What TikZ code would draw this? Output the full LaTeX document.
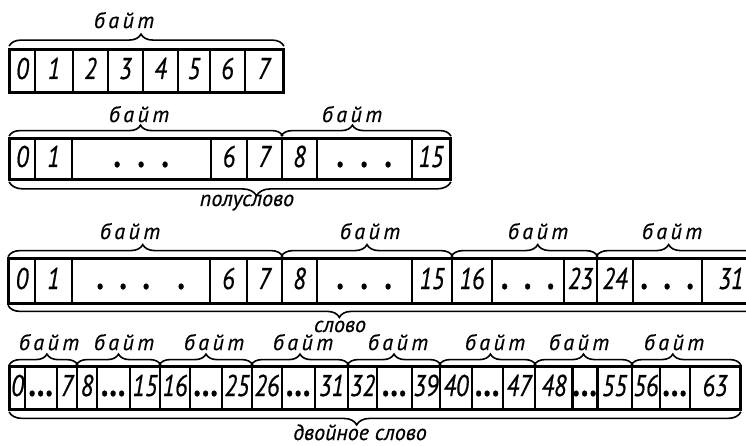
\documentclass[tikz,border=0pt]{standalone}
\usepackage{fontspec}
\setmainfont[FakeBold=0.5]{PT Sans}
\newfontfamily\numfont[FakeStretch=0.8, FakeBold=0.6]{PT Sans}
\newfontfamily\bytefont[LetterSpace=16, FakeBold=0.5]{PT Sans}
\usetikzlibrary{decorations.pathreplacing}

% one dot of a "..." run, centred in a box of the given width
\newcommand\pd[1]{\makebox[#1pt]{\fontsize{38}{38}\selectfont\bfseries.}}

\tikzset{
  cell/.style={draw, line width=1.8pt, inner sep=0pt, text height=16pt, text depth=0pt,
    font=\numfont\itshape\fontsize{30}{30}\selectfont},
  frame/.style={draw, line width=2.6pt},
  bracetop/.style={decorate, line width=1.6pt, decoration={brace, amplitude=#1}},
  bracebot/.style={decorate, line width=1.6pt, decoration={brace, mirror, amplitude=#1}},
  lbl/.style={anchor=base, inner sep=0pt, font=\itshape\fontsize{22}{26}\selectfont},
  bytelbl/.style={lbl, font=\bytefont\itshape\fontsize{22}{26}\selectfont},
}

\begin{document}
\begin{tikzpicture}[x=1pt, y=-1pt]
\useasboundingbox (0,0) rectangle (746,446);

% ---- byte ----
\foreach \a/\b/\t [count=\i] in {10/35/0, 35/73/1, 73/108/2, 108/143/3, 143/178/4,
    178/210/5, 210/245/6, 245/283/7}
  \node[cell, minimum width={(\b-\a)*1pt}, minimum height=42pt] (ra\i) at ({(\a+\b)/2},71) {\t};
\draw[frame] (ra1.north west) rectangle (ra8.south east);
\draw[bracetop=12pt, decoration={aspect=0.48}] ([yshift=3pt]ra1.north west) -- ([yshift=3pt]ra8.north east);
\node[bytelbl] (la) at (124,28) {байт};

% ---- half-word ----
\foreach \a/\b/\t [count=\i] in {10/35/0, 35/72/1, 72/211/{\pd{24}\pd{24}\pd{24}\hskip14pt},
    211/247/6, 247/282/7, 282/317/8, 317/412/{\pd{24}\pd{24}\pd{24}}, 412/450/15}
  \node[cell, minimum width={(\b-\a)*1pt}, minimum height=40pt] (rb\i) at ({(\a+\b)/2},159) {\t};
\draw[frame] (rb1.north west) rectangle (rb8.south east);
\draw[bracetop=11pt, decoration={aspect=0.48}] ([yshift=2pt]rb1.north west) -- ([yshift=2pt]rb5.north east);
\draw[bracetop=11pt, decoration={aspect=0.42}] ([yshift=2pt]rb6.north west) -- ([yshift=2pt]rb8.north east);
\draw[bracebot=14pt, decoration={aspect=0.56}] ([yshift=-2pt]rb1.south west) -- ([yshift=-2pt]rb8.south east);
\node[bytelbl] (lb1) at (139,122) {байт};
\node[bytelbl] (lb2) at (352,122) {байт};
\node[lbl] (lb3) at (247,206) {полуслово};

% ---- word ----
\foreach \a/\b/\t [count=\i] in {9/35/0, 35/72/1, 72/210/{\pd{23}\pd{23}\pd{23}\hskip12pt\pd{23}},
    210/247/6, 247/282/7, 282/317/8, 317/412/{\pd{24}\pd{24}\pd{24}\hskip8pt}, 412/452/15,
    452/492/16, 492/564/{\pd{23}\pd{23}\pd{23}}, 564/597/23, 597/633/24,
    633/702/{\pd{23}\pd{23}\pd{23}}, 702/760/{\makebox[32pt]{31}\hskip26pt}}
  \node[cell, minimum width={(\b-\a)*1pt}, minimum height=43pt] (rc\i) at ({(\a+\b)/2},281) {\t};
\draw[frame] (rc1.north west) rectangle (rc14.south east);
\draw[bracetop=12pt, decoration={aspect=0.49}] ([yshift=2pt]rc1.north west) -- ([yshift=2pt]rc5.north east);
\draw[bracetop=12pt, decoration={aspect=0.50}] ([yshift=2pt]rc6.north west) -- ([yshift=2pt]rc8.north east);
\draw[bracetop=12pt, decoration={aspect=0.59}] ([yshift=2pt]rc9.north west) -- ([yshift=2pt]rc11.north east);
\draw[bracetop=12pt, decoration={aspect=0.44}] ([yshift=2pt]rc12.north west) -- ([yshift=2pt]rc14.north east);
\draw[bracebot=12pt, decoration={aspect=0.44}] ([yshift=-2pt]rc1.south west) -- ([yshift=-2pt]rc14.south east);
\node[bytelbl] (lc1) at (130,239) {байт};
\node[bytelbl] (lc2) at (370,239) {байт};
\node[bytelbl] (lc3) at (538,239) {байт};
\node[bytelbl] (lc4) at (672,239) {байт};
\node[lbl] (lc5) at (340,332) {слово};

% ---- double word ----
\foreach \a/\b/\t [count=\i] in {10/25/0, 25/57/{\pd{8.5}\pd{8.5}\pd{8.5}}, 57/77/7,
    77/97/8, 97/130/{\pd{8.5}\pd{8.5}\pd{8.5}}, 130/160/15,
    160/190/16, 190/222/{\pd{8.5}\pd{8.5}\pd{8.5}}, 222/252/25,
    252/282/26, 282/315/{\pd{8.5}\pd{8.5}\pd{8.5}}, 315/348/31,
    348/377/32, 377/412/{\pd{8.5}\pd{8.5}\pd{8.5}}, 412/440/39,
    440/472/40, 472/503/{\pd{8.5}\pd{8.5}\pd{8.5}}, 503/535/47,
    535/573/48, 573/597/{\pd{8.5}\pd{8.5}\pd{8.5}}, 597/632/55,
    632/660/56, 660/690/{\pd{8.5}\pd{8.5}\pd{8.5}}, 690/740/63}
  \node[cell, minimum width={(\b-\a)*1pt}, minimum height=42pt] (rd\i) at ({(\a+\b)/2},388) {\t};
\draw[frame] (rd1.north west) rectangle (rd24.south east);
\draw[bracetop=11pt, decoration={aspect=0.55}] ([yshift=1pt]rd1.north west) -- ([yshift=1pt]rd3.north east);
\draw[bracetop=11pt] ([yshift=1pt]rd4.north west) -- ([yshift=1pt]rd6.north east);
\draw[bracetop=11pt] ([yshift=1pt]rd7.north west) -- ([yshift=1pt]rd9.north east);
\draw[bracetop=11pt] ([yshift=1pt]rd10.north west) -- ([yshift=1pt]rd12.north east);
\draw[bracetop=11pt] ([yshift=1pt]rd13.north west) -- ([yshift=1pt]rd15.north east);
\draw[bracetop=11pt, decoration={aspect=0.53}] ([yshift=1pt]rd16.north west) -- ([yshift=1pt]rd18.north east);
\draw[bracetop=11pt] ([yshift=1pt]rd19.north west) -- ([yshift=1pt]rd21.north east);
\draw[bracetop=11pt, decoration={aspect=0.38}] ([yshift=1pt]rd22.north west) -- ([yshift=1pt]rd24.north east);
\draw[bracebot=13pt, decoration={aspect=0.475}] ([yshift=-2pt]rd1.south west) -- ([yshift=-2pt]rd24.south east);
\node[bytelbl] (ld1) at (49,350) {байт};
\node[bytelbl] (ld2) at (124,350) {байт};
\node[bytelbl] (ld3) at (214,350) {байт};
\node[bytelbl] (ld4) at (303,350) {байт};
\node[bytelbl] (ld5) at (398,350) {байт};
\node[bytelbl] (ld6) at (495,350) {байт};
\node[bytelbl] (ld7) at (579,350) {байт};
\node[bytelbl] (ld8) at (674,350) {байт};
\node[lbl] (ld9) at (360,440) {двойное слово};
\end{tikzpicture}
\end{document}
